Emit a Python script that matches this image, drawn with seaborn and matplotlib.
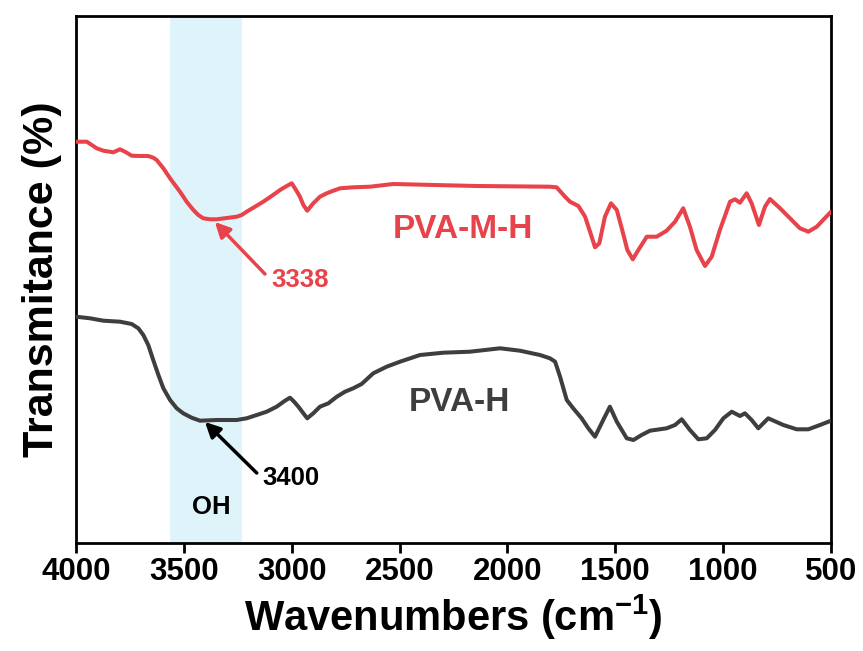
import numpy as np
import pandas as pd
import matplotlib
matplotlib.use("Agg")
import matplotlib.pyplot as plt
import seaborn as sns

# ---- data (y in arbitrary transmittance units) ----
wn_mh = [4000, 3950, 3927, 3904, 3873, 3827, 3796, 3773, 3742, 3703, 3665, 3642, 3626,
         3595, 3564, 3518, 3487, 3456, 3433, 3410, 3379, 3348, 3301, 3255, 3232, 3209,
         3170, 3132, 3093, 3054, 3023, 3000, 2980, 2962, 2946, 2928, 2900, 2869, 2838,
         2807, 2776, 2715, 2637, 2530, 2142,
         1803, 1772, 1733, 1710, 1671, 1640, 1617, 1594, 1574, 1548, 1520, 1493, 1470,
         1444, 1419, 1393, 1354, 1308, 1262, 1223, 1185, 1154, 1123, 1084, 1053, 1015,
         968, 945, 922, 891, 868, 834, 806, 783, 736, 690, 644, 605, 566, 500]
t_mh = [401.3, 401.3, 398, 394.7, 392.3, 390.7, 393.7, 391.3, 387.3, 387, 387, 385.3, 383,
        374.7, 364.7, 351.3, 341.3, 333, 328, 324.7, 323.7, 323.7, 325, 326.3, 328, 331.3,
        336.3, 341.3, 347, 353, 357, 359.7, 353, 346.3, 338, 332.3, 339.7, 346.3, 349.7,
        352.3, 354.7, 355.7, 356.3, 359, 357,
        356.3, 355.7, 346.3, 341.3, 337, 326.3, 311.3, 295.7, 299.7, 326.3, 339.7, 333, 314.7,
        293, 283.7, 293, 306.3, 306.3, 312.3, 321.3, 334.7, 316.3, 293, 277, 286.3, 313,
        341.3, 343.7, 340.3, 349.7, 339.7, 318, 336.3, 344, 334.7, 324.7, 314.7, 311.3, 316.3,
        331.3]

wn_h = [4000, 3935, 3873, 3796, 3742, 3711, 3688, 3665, 3642, 3618, 3595, 3564, 3533,
        3503, 3464, 3425, 3348, 3255, 3209, 3162, 3116, 3070, 3031, 3008, 2989, 2969,
        2946, 2928, 2900, 2869, 2830, 2791, 2753, 2715, 2676, 2622, 2560, 2498, 2405,
        2297, 2174, 2034, 1942, 1849,
        1803, 1779, 1756, 1725, 1695, 1656, 1625, 1594, 1556, 1525, 1493, 1447, 1416,
        1378, 1339, 1262, 1223, 1192, 1154, 1115, 1076, 1038, 999, 960, 922, 899, 868,
        837, 791, 721, 659, 605, 551, 500]
t_h = [226.3, 224.7, 222.3, 221.3, 219, 214.7, 208, 198, 183, 168, 154.7, 143, 134.7,
       129.7, 125.3, 122.3, 123, 123, 124.7, 128, 131.3, 136.3, 142.3, 145.3, 141.3, 136.3,
       129.7, 124.7, 129.7, 136.3, 139.7, 146.3, 151.3, 154.7, 159, 169.7, 176.3, 181.3, 188,
       190.3, 191.3, 194.7, 192.3, 188,
       184.7, 181.3, 166.3, 143, 134.7, 124.7, 114.7, 106.3, 123, 136.3, 121.3, 104.7, 103,
       108, 112.3, 114.7, 118, 123.7, 113, 103.7, 104.7, 113, 124.7, 131.3, 127, 129.7, 123,
       114.7, 124.7, 118, 113.7, 113.7, 118, 122.3]

series_names = ["PVA-M-H", "PVA-H"]
x_ticks = [4000, 3500, 3000, 2500, 2000, 1500, 1000, 500]
oh_band = [3564, 3230]
peak_labels = ["3338", "3400"]

RED = "#E8424A"
GRAY = "#3E3E3E"
BAND = "#DFF3FB"

df = pd.concat([
    pd.DataFrame({"wn": wn_mh, "T": t_mh, "sample": series_names[0]}),
    pd.DataFrame({"wn": wn_h, "T": t_h, "sample": series_names[1]}),
])

sns.set_style("ticks")
plt.rcParams["font.family"] = ["Liberation Sans", "DejaVu Sans"]
plt.rcParams["font.weight"] = "bold"
plt.rcParams["mathtext.fontset"] = "custom"
plt.rcParams["mathtext.rm"] = "Liberation Sans:bold"
plt.rcParams["mathtext.bf"] = "Liberation Sans:bold"
plt.rcParams["text.color"] = "black"
plt.rcParams["axes.labelcolor"] = "black"
plt.rcParams["xtick.color"] = "black"

fig = plt.figure(figsize=(8.63, 6.51), dpi=100)
ax = fig.add_axes([76 / 863, 108 / 651, 755 / 863, 527 / 651])

ax.axvspan(oh_band[0], oh_band[1], color=BAND, lw=0, zorder=0)

sns.lineplot(data=df, x="wn", y="T", hue="sample", palette=[RED, GRAY],
             lw=2.9, sort=False, estimator=None, legend=False, ax=ax, zorder=3)
for ln in ax.get_lines():
    ln.set_solid_joinstyle("round")
    ln.set_solid_capstyle("round")

ax.set_xlim(4000, 500)
ax.set_ylim(0, 527)
ax.set_xticks(x_ticks)
ax.set_xticklabels([str(v) for v in x_ticks], fontsize=22.5, fontweight="bold", color="black")
ax.set_yticks([])
ax.tick_params(axis="x", direction="out", length=7, width=2, pad=3, colors="black")
for s in ax.spines.values():
    s.set_linewidth(2)
    s.set_color("black")

ax.set_xlabel("Wavenumbers (cm$^{\\mathbf{-1}}$)", fontsize=30, fontweight="bold",
              labelpad=4, color="black")
ax.set_ylabel("Transmitance (%)", fontsize=31, fontweight="bold", labelpad=10, color="black")

ax.text(2206, 313, series_names[0], color=RED, fontsize=24, fontweight="bold",
        ha="center", va="center")
ax.text(2224, 140.5, series_names[1], color=GRAY, fontsize=24, fontweight="bold",
        ha="center", va="center")

ax.annotate("", xy=(3356, 321), xytext=(3124, 269),
            arrowprops=dict(arrowstyle="-|>,head_length=0.9,head_width=0.45",
                            color=RED, lw=2.5, shrinkA=0, shrinkB=0))
ax.text(2962, 263, peak_labels[0], color=RED, fontsize=18.5, fontweight="bold",
        ha="center", va="center")

ax.annotate("", xy=(3402, 121), xytext=(3162, 70),
            arrowprops=dict(arrowstyle="-|>,head_length=0.9,head_width=0.45",
                            color="black", lw=2.5, shrinkA=0, shrinkB=0))
ax.text(3003, 65, peak_labels[1], color="black", fontsize=18.5, fontweight="bold",
        ha="center", va="center")

ax.text(3374, 35.5, "OH", color="black", fontsize=18.5, fontweight="bold",
        ha="center", va="center")

fig.savefig("out.png", dpi=100)
